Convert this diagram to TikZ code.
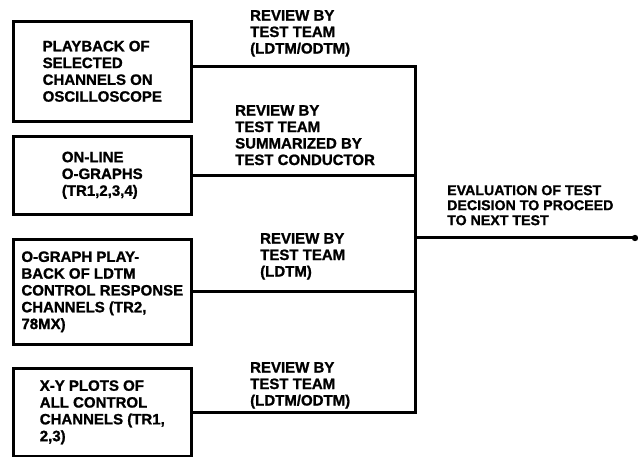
\documentclass[tikz,border=0pt]{standalone}
\usepackage{fontspec}
\setmainfont{Liberation Sans}
\newfontfamily\heavy{Liberation Sans Bold}[FakeBold=1.2]
\usetikzlibrary{calc}
\tikzstyle{source} = [rectangle, draw=black, line width=2.6pt, minimum width=178pt, anchor=north west, align=left, inner sep=0pt, font=\heavy\fontsize{15}{16.8}\selectfont]
\tikzstyle{remark} = [anchor=north west, align=left, inner sep=0pt, font=\heavy\fontsize{15}{16.5}\selectfont]
\tikzstyle{feed} = [line width=3pt, line join=miter]

\begin{document}
\begin{tikzpicture}[x=1pt,y=-1pt]
\useasboundingbox (0,0) rectangle (638,457);
\node (play) [source, minimum height=100pt] at (12,20) {PLAYBACK OF\\SELECTED\\CHANNELS ON\\OSCILLOSCOPE};
\node (online) [source, minimum height=78pt] at (12,135) {ON-LINE\\O-GRAPHS\\(TR1,2,3,4)};
\node (ograph) [source, minimum height=105pt] at (12,238) {O-GRAPH PLAY-\\BACK OF LDTM\\CONTROL RESPONSE\\CHANNELS (TR2,\\78MX)};
\node (plot) [source, minimum height=88pt] at (12,367) {X-Y PLOTS OF\\ALL CONTROL\\CHANNELS (TR1,\\2,3)};

\node (rev1) [remark] at (250,10) {REVIEW BY\\TEST TEAM\\(LDTM/ODTM)};
\node (rev2) [remark] at (235,105) {REVIEW BY\\TEST TEAM\\SUMMARIZED BY\\TEST CONDUCTOR};
\node (rev3) [remark] at (260,233) {REVIEW BY\\TEST TEAM\\(LDTM)};
\node (rev4) [remark] at (250,362) {REVIEW BY\\TEST TEAM\\(LDTM/ODTM)};
\node (eval) [remark, font=\heavy\fontsize{14.2}{15}\selectfont] at (447,185) {EVALUATION OF TEST\\DECISION TO PROCEED\\TO NEXT TEST};

\coordinate (bus) at (415,0);
\coordinate (tap) at (415,238);
\coordinate (goal) at (635,238);

\draw [feed] ([yshift=5pt]play.east) -| (plot.east -| bus) -- (plot.east);
\draw [feed] (online.east) -- (online.east -| bus);
\draw [feed] (ograph.east) -- (ograph.east -| bus);
\draw [feed] (tap) -- (goal);
\fill (goal) circle (3.2pt);

\end{tikzpicture}
\end{document}
